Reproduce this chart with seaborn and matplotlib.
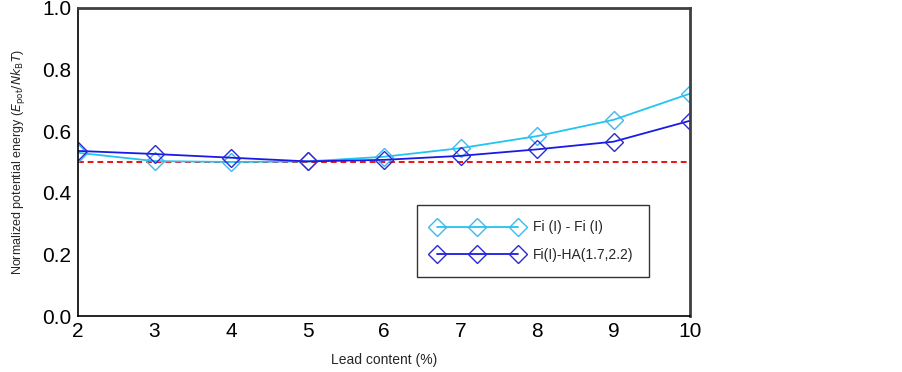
import matplotlib
matplotlib.use("Agg")
import matplotlib.pyplot as plt
import seaborn as sns
import pandas as pd

lead = [2, 3, 4, 5, 6, 7, 8, 9, 10]
fi_fi = [0.530, 0.503, 0.500, 0.502, 0.517, 0.545, 0.584, 0.637, 0.722]
fi_ha = [0.536, 0.526, 0.514, 0.502, 0.507, 0.520, 0.541, 0.566, 0.634]
ref_level = 0.5
labels = ["Fi (I) - Fi (I)", "Fi(I)-HA(1.7,2.2)"]
colors = ["#22c4f0", "#1a1ae8"]
edge_colors = ["#3fb8ec", "#2a2ad0"]

sns.set_style("white")
plt.rcParams["font.family"] = ["Liberation Sans", "DejaVu Sans"]

fig = plt.figure(figsize=(9.02, 3.72), dpi=100)
ax = fig.add_axes([0.0865, 0.1505, 0.6785, 0.828])

for vals, lab, c, ec in zip([fi_fi, fi_ha], labels, colors, edge_colors):
    df = pd.DataFrame({"x": lead, "y": vals})
    sns.lineplot(data=df, x="x", y="y", ax=ax, color=c, linewidth=1.3,
                 marker="D", markersize=9, markerfacecolor="none",
                 markeredgecolor=ec, markeredgewidth=1.0, label=lab)

ax.axhline(ref_level, color="#ee1111", linestyle=(0, (3, 2)), linewidth=1.4, zorder=1)

ax.set_xlim(2, 10)
ax.set_ylim(0, 1.0)
ax.set_xticks(lead)
ax.set_yticks([0.0, 0.2, 0.4, 0.6, 0.8, 1.0])
ax.set_yticklabels(["0.0", "0.2", "0.4", "0.6", "0.8", "1.0"])
ax.tick_params(axis="both", direction="in", length=7, width=1, labelsize=15,
               colors="black", pad=5)
ax.tick_params(axis="x", pad=4)

for side in ["left", "bottom"]:
    ax.spines[side].set_color("black")
    ax.spines[side].set_linewidth(1.2)
for side in ["top", "right"]:
    ax.spines[side].set_color("#404040")
    ax.spines[side].set_linewidth(2.0)

ax.set_xlabel("Lead content (%)", fontsize=10, labelpad=9)
ax.set_ylabel(r"Normalized potential energy ($E_{\mathrm{pot}}/Nk_{\mathrm{B}}T$)", fontsize=9, labelpad=10)

leg = ax.legend(loc="upper left", bbox_to_anchor=(0.554, 0.36), borderaxespad=0,
                numpoints=3, handlelength=6.5, fontsize=10, frameon=True,
                fancybox=False, edgecolor="black", borderpad=1.1, labelspacing=0.95,
                handletextpad=0.75)
leg.get_frame().set_linewidth(1.0)

fig.savefig("out.png", dpi=100)
